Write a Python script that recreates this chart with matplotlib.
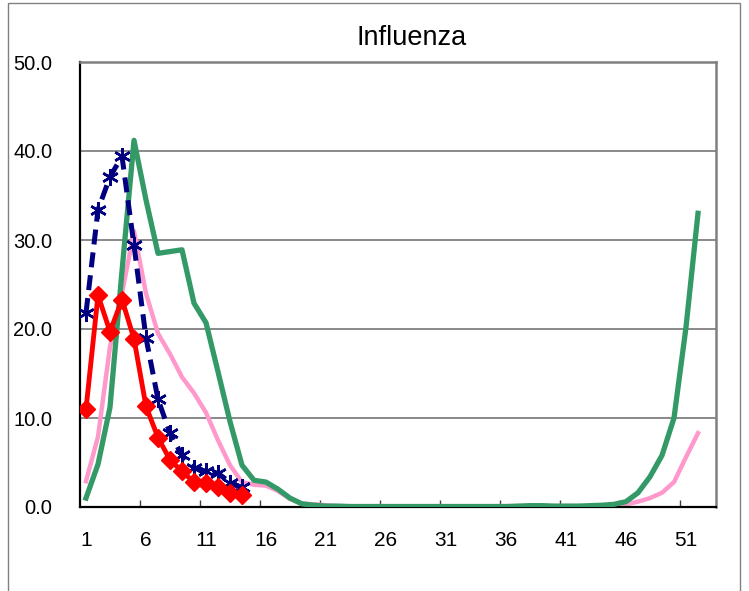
import matplotlib
matplotlib.use("Agg")
import matplotlib.pyplot as plt
from matplotlib.patches import Rectangle
from matplotlib.ticker import FixedLocator

plt.rcParams['font.family'] = ['Liberation Sans', 'DejaVu Sans']

weeks_all = list(range(1, 53))
weeks_short = list(range(1, 15))

# Series
red_vals = [11.0, 23.8, 19.7, 23.3, 18.9, 11.3, 7.8, 5.3, 4.0, 2.8, 2.7, 2.3, 1.6, 1.4]
navy_vals = [21.8, 33.4, 37.1, 39.4, 29.4, 19.0, 12.1, 8.3, 5.8, 4.4, 4.0, 3.8, 2.7, 2.2]
pink_vals = [2.9, 7.9, 18.0, 24.0, 31.0, 24.0, 19.5, 17.2, 14.6, 12.8, 10.6, 7.5, 4.7, 2.8,
             2.5, 2.4, 1.8, 0.9, 0.4, 0.3, 0.2, 0.1, 0.1, 0.1, 0.1, 0.1, 0.1, 0.1,
             0.1, 0.1, 0.1, 0.1, 0.1, 0.1, 0.1, 0.1, 0.1, 0.1, 0.1, 0.1, 0.1, 0.1,
             0.05, 0.05, 0.15, 0.3, 0.6, 1.0, 1.6, 2.8, 5.6, 8.3]
green_vals = [1.0, 4.8, 11.2, 26.5, 41.2, 34.5, 28.5, 28.7, 28.9, 22.9, 20.7, 15.2, 9.6, 4.7,
              3.0, 2.8, 2.0, 1.0, 0.35, 0.2, 0.1, 0.1, 0.05, 0.05, 0.05, 0.05, 0.05, 0.05,
              0.05, 0.05, 0.05, 0.05, 0.05, 0.05, 0.05, 0.05, 0.1, 0.15, 0.15, 0.1, 0.1, 0.1,
              0.15, 0.2, 0.3, 0.6, 1.6, 3.4, 5.8, 10.0, 20.2, 33.0]

title = "Influenza"
xtick_vals = [1, 6, 11, 16, 21, 26, 31, 36, 41, 46, 51]
ytick_vals = [0, 10, 20, 30, 40, 50]

W, H = 749, 591
fig = plt.figure(figsize=(W / 100, H / 100), dpi=100)
ax = fig.add_axes([80 / W, 1 - 507 / H, (716 - 80) / W, (507 - 62) / H])

ax.plot(weeks_all, pink_vals, color='#FF99CC', lw=3.2, zorder=2, solid_joinstyle='round')
ax.plot(weeks_all, green_vals, color='#339966', lw=3.8, zorder=3, solid_joinstyle='round')
ax.plot(weeks_short, navy_vals, color='#000080', lw=3.6, linestyle=(0, (3, 1.6)),
        marker=(6, 2, 0), markersize=12, markeredgewidth=1.8, zorder=4)
ax.plot(weeks_short, red_vals, color='#FF0000', lw=3.5, marker='D', markersize=9,
        zorder=5)

ax.set_xlim(0.5, 53.5)
ax.set_ylim(0, 50)

ax.set_xticks(xtick_vals)
ax.set_xticklabels([str(v) for v in xtick_vals])
ax.xaxis.set_minor_locator(FixedLocator([5.5 + 5 * i for i in range(10)]))
ax.tick_params(axis='x', which='major', length=0, pad=17, labelsize=15)
ax.tick_params(axis='x', which='minor', length=5, direction='in', width=1, color='#404040')

ax.set_yticks(ytick_vals)
ax.set_yticklabels([f"{v:.1f}" for v in ytick_vals])
ax.tick_params(axis='y', length=0, pad=20, labelsize=14.5)

ax.grid(axis='y', color='#808080', lw=1.3, zorder=0)
ax.set_axisbelow(True)

for s in ['top', 'right']:
    ax.spines[s].set_color('#808080')
    ax.spines[s].set_linewidth(1.8)
for s in ['left', 'bottom']:
    ax.spines[s].set_color('black')
    ax.spines[s].set_linewidth(1.6)

fig.text(412 / W, 1 - 38 / H, title, ha='center', va='center', fontsize=19.5)

fig.add_artist(Rectangle((8 / W, -0.1), (740 - 8) / W, 0.1 + (H - 3) / H,
                         transform=fig.transFigure, fill=False,
                         edgecolor='#808080', lw=1.0))

fig.savefig("out.png", dpi=100)
